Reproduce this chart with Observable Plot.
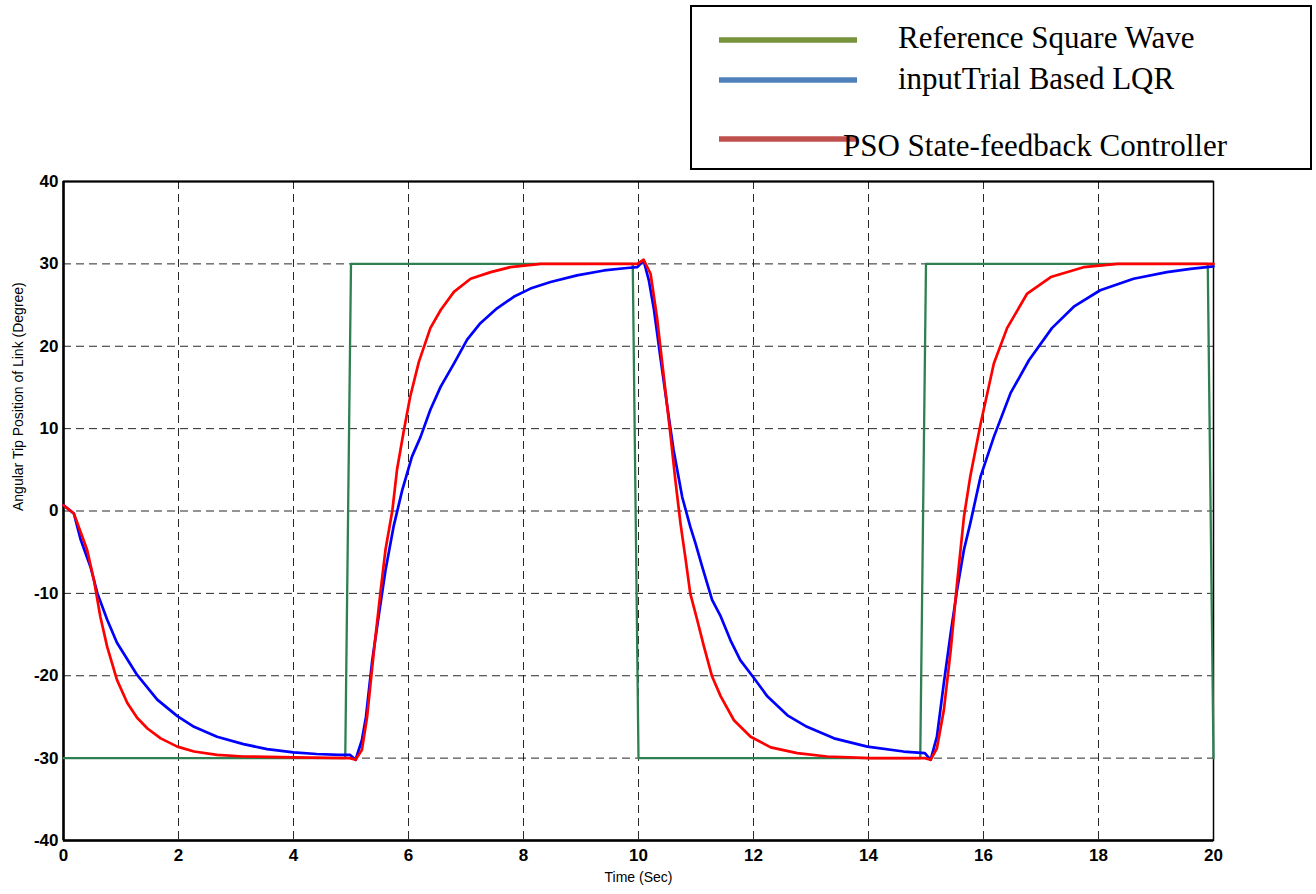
<!DOCTYPE html>
<html>
<head>
<meta charset="utf-8">
<script src="https://cdn.jsdelivr.net/npm/d3@7"></script>
<script src="https://cdn.jsdelivr.net/npm/@observablehq/plot@0.6"></script>
<style>
  body { margin: 0; background: #fff; }
  #wrap { position: relative; width: 1316px; height: 894px; }
  #chart svg { font-family: "Liberation Sans", Arial, sans-serif; background: #fff; }
  #legend { position: absolute; left: 0; top: 0; }
</style>
</head>
<body>
<div id="wrap"><div id="chart"></div></div>
<script>
// Reference square wave (deg) switching every 5 s
const squareT = [0, 4.9, 5.0, 9.9, 10.0, 14.9, 15.0, 19.9, 20.0];
const squareV = [-30, -30, 30, 30, -30, -30, 30, 30, -30];

// Trial-based LQR response
const lqrT = [0, 0.18, 0.30, 0.47, 0.59, 0.76, 0.93, 1.28, 1.63, 1.98, 2.27, 2.67, 3.13, 3.54, 4.0, 4.4, 4.8, 4.98,
  5.08, 5.19, 5.26, 5.37, 5.48, 5.60, 5.74, 5.89, 6.06, 6.21, 6.38, 6.56, 6.79, 7.02, 7.25, 7.54, 7.83, 8.12, 8.47, 8.93, 9.40, 9.80, 9.98,
  10.09, 10.18, 10.27, 10.38, 10.50, 10.61, 10.76, 10.90, 10.99, 11.11, 11.28, 11.43, 11.60, 11.77, 12.01, 12.24, 12.59, 12.93, 13.40, 13.98, 14.61, 14.98,
  15.08, 15.19, 15.31, 15.43, 15.54, 15.66, 15.77, 15.95, 16.18, 16.47, 16.79, 17.19, 17.57, 18.03, 18.61, 19.19, 19.6, 20.0];
const lqrV = [0.7, -0.3, -3.5, -6.8, -10, -13.2, -16.0, -19.9, -22.9, -24.9, -26.2, -27.4, -28.3, -28.9, -29.3, -29.5, -29.6, -29.6,
  -30.2, -27.8, -25, -18.1, -12.8, -7.2, -1.9, 2.5, 6.6, 9.0, 12.3, 15.1, 17.9, 20.8, 22.8, 24.6, 26.0, 27.0, 27.8, 28.6, 29.2, 29.5, 29.6,
  30.4, 28.0, 24.4, 18.7, 12.7, 7.4, 1.7, -1.9, -3.9, -6.8, -10.8, -12.8, -15.7, -18.1, -20.3, -22.5, -24.8, -26.2, -27.6, -28.6, -29.2, -29.4,
  -30.2, -27.4, -20.9, -14.8, -9.6, -4.7, -1.5, 4.2, 9.0, 14.3, 18.3, 22.2, 24.8, 26.8, 28.2, 29.0, 29.4, 29.7];

// PSO state-feedback controller response
const psoT = [0, 0.18, 0.41, 0.53, 0.64, 0.76, 0.93, 1.11, 1.28, 1.46, 1.69, 1.98, 2.27, 2.67, 3.13, 4.0, 4.98,
  5.08, 5.19, 5.28, 5.40, 5.51, 5.60, 5.72, 5.80, 5.92, 6.03, 6.18, 6.38, 6.56, 6.79, 7.08, 7.43, 7.77, 8.30, 9.0, 9.98,
  10.09, 10.21, 10.32, 10.44, 10.56, 10.64, 10.73, 10.82, 10.90, 11.02, 11.14, 11.28, 11.43, 11.66, 11.95, 12.30, 12.76, 13.28, 14.03, 14.98,
  15.08, 15.19, 15.31, 15.43, 15.54, 15.66, 15.77, 15.95, 16.18, 16.41, 16.76, 17.17, 17.74, 18.33, 19.0, 20.0];
const psoV = [0.7, -0.3, -4.7, -8.4, -12.8, -16.5, -20.5, -23.3, -25.1, -26.4, -27.6, -28.6, -29.2, -29.6, -29.8, -29.9, -30,
  -30.2, -29, -25, -16.9, -10, -4.7, 0.1, 5, 9.8, 13.9, 18.1, 22.2, 24.4, 26.6, 28.2, 29.0, 29.6, 30, 30, 30,
  30.5, 28.8, 23.6, 16.3, 9.0, 3.8, -1.5, -5.9, -10, -13.2, -16.5, -20.1, -22.5, -25.4, -27.4, -28.7, -29.4, -29.8, -30, -30,
  -30.2, -28.8, -24.2, -16.9, -8.8, -0.7, 4.2, 10.6, 17.9, 22.2, 26.4, 28.4, 29.6, 30, 30, 30];

const xTicks = [0, 2, 4, 6, 8, 10, 12, 14, 16, 18, 20];
const yTicks = [-40, -30, -20, -10, 0, 10, 20, 30, 40];

const xTitle = "Time (Sec)";
const yTitle = "Angular Tip Position of Link (Degree)";

const legendLabels = ["Reference Square Wave", "inputTrial Based LQR", "PSO State-feedback Controller"];
const legendColors = ["#77933c", "#4f81bd", "#c0504d"];

const toRows = (ts, vs) => ts.map((t, i) => ({t, v: vs[i]}));
const square = toRows(squareT, squareV);
const lqr = toRows(lqrT, lqrV);
const pso = toRows(psoT, psoV);

const grid = {stroke: "#111", strokeOpacity: 0.9, strokeWidth: 1, strokeDasharray: "8,5"};

const chart = Plot.plot({
  width: 1316,
  height: 894,
  marginLeft: 63,
  marginRight: 103,
  marginTop: 181,
  marginBottom: 54,
  x: {domain: [0, 20]},
  y: {domain: [-40, 40]},
  marks: [
    Plot.gridX(xTicks, grid),
    Plot.gridY(yTicks, grid),
    Plot.frame({stroke: "#000", strokeWidth: 1.5}),
    Plot.ruleX([0], {stroke: "#000", strokeWidth: 2.5}),
    Plot.ruleY([-40], {stroke: "#000", strokeWidth: 2.5}),
    Plot.ruleY([40], {stroke: "#000", strokeWidth: 2}),
    Plot.axisX(xTicks, {tickSize: 0, tickPadding: 8, fontSize: 17, fontWeight: "bold", label: null, tickFormat: d => String(d), fill: "#000"}),
    Plot.axisY(yTicks, {tickSize: 0, tickPadding: 5, fontSize: 17, fontWeight: "bold", label: null, tickFormat: d => String(d), fill: "#000"}),
    Plot.text([xTitle], {frameAnchor: "bottom", dy: 41, fontSize: 14, fill: "#000"}),
    Plot.text([yTitle], {frameAnchor: "left", dx: -45, rotate: -90, fontSize: 14, fill: "#000"}),
    Plot.line(square, {x: "t", y: "v", stroke: "#2e8050", strokeWidth: 2.3}),
    Plot.line(lqr, {x: "t", y: "v", stroke: "#0000ff", strokeWidth: 2.7}),
    Plot.line(pso, {x: "t", y: "v", stroke: "#ff0000", strokeWidth: 2.7})
  ]
});
document.getElementById("chart").appendChild(chart);

// Legend box in the top-right corner
const legend = d3.create("svg")
  .attr("id", "legend")
  .attr("width", 1316)
  .attr("height", 176);
legend.append("rect")
  .attr("x", 691).attr("y", 6).attr("width", 620).attr("height", 163)
  .attr("fill", "#fff").attr("stroke", "#000").attr("stroke-width", 2);
const rowsY = [40, 80, 139];
const textX = [898, 898, 843];
const textY = [48, 89, 156];
legendLabels.forEach((label, i) => {
  legend.append("line")
    .attr("x1", 719).attr("x2", 857).attr("y1", rowsY[i]).attr("y2", rowsY[i])
    .attr("stroke", legendColors[i]).attr("stroke-width", 5.5);
  legend.append("text")
    .attr("x", textX[i]).attr("y", textY[i])
    .attr("font-family", "'Liberation Serif', 'Times New Roman', serif")
    .attr("font-size", 31).attr("fill", "#000")
    .text(label);
});
document.getElementById("wrap").appendChild(legend.node());
</script>
</body>
</html>
